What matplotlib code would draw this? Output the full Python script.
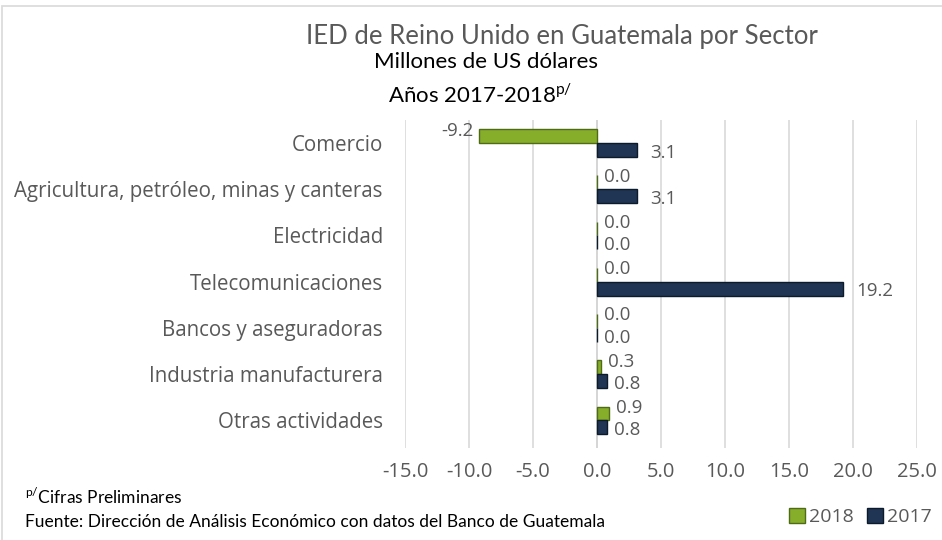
import numpy as np
import matplotlib.pyplot as plt
from matplotlib.patches import Rectangle

sectores = ['Comercio', 'Agricultura, petróleo, minas y canteras', 'Electricidad',
            'Telecomunicaciones', 'Bancos y aseguradoras', 'Industria manufacturera',
            'Otras actividades']
v2018 = [-9.2, 0.0, 0.0, 0.0, 0.0, 0.3, 0.9]
v2017 = [3.1, 3.1, 0.0, 19.2, 0.0, 0.8, 0.8]
ticks = [-15, -10, -5, 0, 5, 10, 15, 20, 25]

gris = '#595959'
verde = '#86ae2a'
azul = '#1f3553'

fig = plt.figure(figsize=(9.42, 5.4), dpi=100)
ax = fig.add_axes([0.43, 0.170, 0.5435, 0.608])

y = np.arange(len(sectores))
h = 0.30
ax.barh(y - h / 2, v2018, height=h, color=verde, edgecolor='#4f6b15', linewidth=1, zorder=3, label='2018')
ax.barh(y + h / 2, v2017, height=h, color=azul, edgecolor='#0d1a2b', linewidth=1, zorder=3, label='2017')

for i in range(len(sectores)):
    a, b = v2018[i], v2017[i]
    if a < 0:
        ax.annotate(f'{a:.1f}', (a, i - h / 2), xytext=(-4, 4), textcoords='offset points',
                    ha='right', va='center', fontsize=13.5, color=gris, family='Open Sans')
    else:
        ax.annotate(f'{a:.1f}', (a, i - h / 2), xytext=(5, 4), textcoords='offset points',
                    ha='left', va='center', fontsize=13.5, color=gris, family='Open Sans')
    ax.annotate(f'{b:.1f}', (b, i + h / 2), xytext=(5 if b < 1 else 10, -2), textcoords='offset points',
                ha='left', va='center', fontsize=13.5, color=gris, family='Open Sans')

ax.set_xlim(-15, 25)
ax.set_ylim(6.6, -0.5)
ax.set_xticks(ticks)
ax.set_xticklabels([f'{t:.1f}' for t in ticks], fontsize=14.5, color=gris, family='Open Sans')
ax.set_yticks(y)
ax.set_yticklabels(sectores, fontsize=14.8, color=gris, family='Open Sans')
ax.tick_params(length=0, pad=16)
ax.tick_params(axis='x', pad=10)
ax.grid(axis='x', color='#d9d9d9', linewidth=1.2, zorder=0)
ax.axvline(0, color='#bfbfbf', linewidth=1.2, zorder=1)
for s in ax.spines.values():
    s.set_visible(False)

fig.text(0.597, 0.933, 'IED de Reino Unido en Guatemala por Sector', ha='center', va='center',
         fontsize=18.5, color=gris, family='Lato')
fig.text(0.516, 0.885, 'Millones de US dólares', ha='center', va='center',
         fontsize=16, color='black', family='Lato')
fig.text(0.51, 0.823, 'Años 2017-2018$^{\\mathregular{p/}}$', ha='center', va='center',
         fontsize=16, color='black', family='Lato')
fig.text(0.027, 0.080, '$^{\\mathregular{p/}}$Cifras Preliminares', ha='left', va='center',
         fontsize=12.5, color='black', family='Lato')
fig.text(0.027, 0.033, 'Fuente: Dirección de Análisis Económico con datos del Banco de Guatemala',
         ha='left', va='center', fontsize=12.5, color='black', family='Lato')

leg = fig.legend(loc='center right', bbox_to_anchor=(0.997, 0.042), ncol=2, frameon=False,
                 prop={'family': 'Open Sans', 'size': 14}, handlelength=0.8, handleheight=0.8,
                 handletextpad=0.2, columnspacing=0.7, borderaxespad=0)
for t in leg.get_texts():
    t.set_color(gris)

fig.patches.append(Rectangle((0.002, -0.01), 1.1, 0.999, transform=fig.transFigure,
                             fill=False, edgecolor='#d9d9d9', linewidth=1.2))

fig.savefig('out.png', dpi=100)
